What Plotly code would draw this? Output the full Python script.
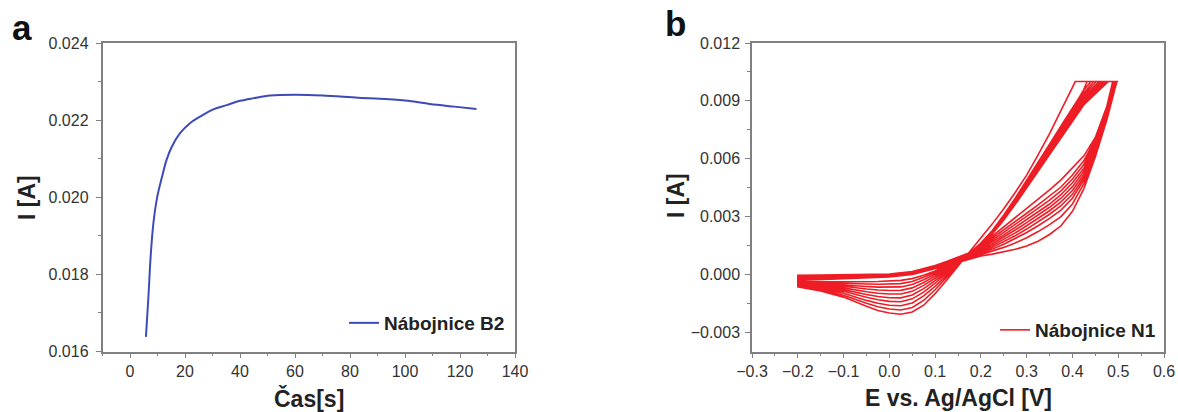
import plotly.graph_objects as go

# ---------------- Panel a: chronoamperometry ----------------
time_s = [5.8, 6.7, 7.5, 8.5, 9.9, 11.5, 13.3, 15.2, 18.2, 21.8, 25.5, 30.3, 35.2, 40,
          45, 51, 60, 70, 83, 100, 109, 118, 126]
current_a = [0.01638, 0.01742, 0.01846, 0.01932, 0.02001, 0.02049, 0.02097, 0.02131,
             0.02166, 0.02192, 0.02209, 0.02228, 0.02239, 0.0225, 0.02257, 0.02264,
             0.02266, 0.02264, 0.02258, 0.02251, 0.02242, 0.02235, 0.02229]

# ---------------- Panel b: cyclic voltammetry (values in mA) ----------------
FWD_E = [-0.2, -0.15, -0.1, -0.05, 0.0, 0.05, 0.1, 0.125, 0.15, 0.175, 0.2, 0.225, 0.25,
         0.275, 0.3, 0.325, 0.35, 0.375, 0.4, 0.425, 0.45, 0.475]
REV_E = [0.425, 0.4, 0.375, 0.35, 0.325, 0.3, 0.275, 0.25, 0.225, 0.2, 0.175, 0.15, 0.125,
         0.1, 0.075, 0.05, 0.025, 0.0, -0.025, -0.05, -0.1, -0.15, -0.2]
E_MAX = 0.5
I_LIMIT_MA = 10.0

fwd_clip_E = [0.497, 0.496, 0.495, 0.494, 0.493, 0.492, 0.491, 0.490, 0.489, 0.488]
rev_clip_E = [0.406, 0.432, 0.440, 0.446, 0.452, 0.458, 0.463, 0.468, 0.473, 0.478]

fwd_mA = [
    [-0.32, -0.28, -0.24, -0.20, -0.14, 0.00, 0.28, 0.45, 0.62, 0.80, 0.95, 1.05, 1.16, 1.30, 1.47, 1.72, 2.07, 2.52, 3.27, 4.45, 6.10, 8.00],
    [-0.29, -0.25, -0.21, -0.17, -0.11, 0.02, 0.30, 0.47, 0.65, 0.84, 1.02, 1.20, 1.40, 1.63, 1.90, 2.22, 2.58, 3.00, 3.65, 4.70, 6.25, 8.10],
    [-0.26, -0.22, -0.18, -0.15, -0.09, 0.04, 0.32, 0.49, 0.68, 0.88, 1.09, 1.31, 1.56, 1.85, 2.17, 2.52, 2.90, 3.33, 3.95, 4.90, 6.40, 8.20],
    [-0.23, -0.19, -0.16, -0.13, -0.07, 0.06, 0.34, 0.51, 0.71, 0.92, 1.15, 1.40, 1.69, 2.00, 2.35, 2.72, 3.12, 3.56, 4.15, 5.05, 6.50, 8.30],
    [-0.20, -0.17, -0.14, -0.11, -0.05, 0.07, 0.36, 0.54, 0.74, 0.96, 1.21, 1.49, 1.81, 2.15, 2.52, 2.90, 3.30, 3.76, 4.35, 5.20, 6.60, 8.35],
    [-0.17, -0.14, -0.11, -0.08, -0.03, 0.09, 0.38, 0.56, 0.77, 1.00, 1.27, 1.58, 1.93, 2.30, 2.68, 3.07, 3.48, 3.95, 4.55, 5.35, 6.70, 8.40],
    [-0.14, -0.11, -0.08, -0.06, -0.01, 0.11, 0.40, 0.59, 0.80, 1.03, 1.33, 1.67, 2.05, 2.44, 2.83, 3.23, 3.65, 4.13, 4.75, 5.50, 6.80, 8.45],
    [-0.11, -0.08, -0.06, -0.04, 0.00, 0.12, 0.42, 0.61, 0.84, 1.06, 1.39, 1.77, 2.18, 2.59, 3.00, 3.41, 3.85, 4.33, 4.95, 5.70, 6.90, 8.50],
    [-0.08, -0.06, -0.04, -0.02, 0.01, 0.14, 0.44, 0.64, 0.87, 1.09, 1.45, 1.87, 2.31, 2.74, 3.17, 3.60, 4.05, 4.53, 5.15, 5.90, 7.00, 8.60],
    [-0.05, -0.03, -0.02, -0.01, 0.02, 0.15, 0.46, 0.67, 0.90, 1.12, 1.51, 1.98, 2.48, 2.95, 3.42, 3.90, 4.38, 4.90, 5.50, 6.15, 7.10, 8.70],
]

rev_mA = [
    [None, 9.70, 8.50, 7.30, 6.20, 5.15, 4.25, 3.40, 2.62, 1.88, 1.15, 0.45, -0.30, -1.00, -1.60, -1.95, -2.07, -2.00, -1.87, -1.65, -1.18, -0.86, -0.64],
    [9.60, 8.60, 7.55, 6.50, 5.50, 4.55, 3.65, 2.85, 2.10, 1.55, 1.12, 0.48, -0.18, -0.80, -1.35, -1.72, -1.85, -1.80, -1.68, -1.50, -1.08, -0.80, -0.62],
    [9.55, 8.65, 7.70, 6.75, 5.80, 4.85, 3.95, 3.08, 2.28, 1.62, 1.10, 0.52, -0.06, -0.62, -1.12, -1.48, -1.63, -1.60, -1.50, -1.35, -0.98, -0.74, -0.60],
    [9.40, 8.50, 7.58, 6.65, 5.72, 4.78, 3.88, 3.03, 2.25, 1.60, 1.08, 0.55, 0.04, -0.46, -0.92, -1.27, -1.42, -1.40, -1.32, -1.19, -0.88, -0.68, -0.57],
    [9.30, 8.40, 7.48, 6.56, 5.64, 4.72, 3.83, 2.99, 2.22, 1.58, 1.06, 0.58, 0.12, -0.32, -0.74, -1.07, -1.22, -1.21, -1.15, -1.04, -0.79, -0.63, -0.54],
    [9.20, 8.30, 7.40, 6.48, 5.57, 4.66, 3.78, 2.95, 2.19, 1.56, 1.05, 0.61, 0.19, -0.20, -0.57, -0.88, -1.02, -1.02, -0.98, -0.90, -0.70, -0.58, -0.51],
    [9.10, 8.20, 7.31, 6.41, 5.50, 4.60, 3.73, 2.91, 2.16, 1.54, 1.04, 0.64, 0.26, -0.09, -0.42, -0.70, -0.83, -0.84, -0.81, -0.76, -0.62, -0.53, -0.48],
    [9.00, 8.12, 7.23, 6.34, 5.44, 4.55, 3.69, 2.88, 2.14, 1.52, 1.03, 0.67, 0.32, 0.01, -0.28, -0.53, -0.65, -0.67, -0.66, -0.63, -0.54, -0.48, -0.45],
    [8.90, 8.04, 7.16, 6.28, 5.39, 4.51, 3.66, 2.85, 2.12, 1.50, 1.02, 0.70, 0.38, 0.10, -0.15, -0.37, -0.48, -0.51, -0.51, -0.50, -0.46, -0.43, -0.42],
    [8.80, 7.96, 7.09, 6.22, 5.34, 4.47, 3.63, 2.82, 2.10, 1.48, 1.01, 0.73, 0.44, 0.18, -0.04, -0.22, -0.31, -0.35, -0.37, -0.38, -0.38, -0.38, -0.38],
]

# Build one continuous CV trace (cycle after cycle)
cv_x, cv_y = [], []
for k in range(len(fwd_mA)):
    for e, i in zip(FWD_E, fwd_mA[k]):
        cv_x.append(e); cv_y.append(i / 1000.0)
    cv_x += [fwd_clip_E[k], E_MAX, rev_clip_E[k]]
    cv_y += [I_LIMIT_MA / 1000.0] * 3
    for e, i in zip(REV_E, rev_mA[k]):
        if i is None:
            continue
        cv_x.append(e); cv_y.append(i / 1000.0)

W, H = 1178, 412
FONT = "Liberation Sans, Arial, Helvetica, sans-serif"
AX_COLOR = "#808080"
TICK_FONT = dict(family=FONT, size=16, color="#333333")
TITLE_FONT = dict(family=FONT, size=23, color="#222222")
LEG_FONT = dict(family=FONT, size=19, color="#222222")

fig = go.Figure()
fig.add_trace(go.Scatter(x=time_s, y=current_a, mode="lines", name="<b>Nábojnice B2</b>",
                         line=dict(color="#3D4BB8", width=2.0, shape="spline"),
                         xaxis="x", yaxis="y", legend="legend", showlegend=True))
fig.add_trace(go.Scatter(x=cv_x, y=cv_y, mode="lines", name="<b>Nábojnice N1</b>",
                         line=dict(color="#EE1C25", width=1.6),
                         xaxis="x2", yaxis="y2", legend="legend2", showlegend=True))

common = dict(showline=True, linecolor=AX_COLOR, linewidth=1.5, mirror=True,
              ticks="outside", ticklen=5, tickwidth=1.2, tickcolor=AX_COLOR,
              showgrid=False, zeroline=False, tickfont=TICK_FONT, automargin=False)

Y0, Y1 = 1 - 351.5 / H, 1 - 43 / H


def px(x):
    return x / W


def py(y):
    return 1 - y / H


def label(text, x, y, font, angle=0):
    return dict(text=text, x=px(x), y=py(y), xref="paper", yref="paper",
                xanchor="center", yanchor="middle", textangle=angle,
                showarrow=False, font=font)


fig.update_layout(
    width=W, height=H,
    margin=dict(l=0, r=0, t=0, b=0, autoexpand=False),
    paper_bgcolor="white", plot_bgcolor="white",
    showlegend=True,
    xaxis=dict(domain=[px(102.5), px(515)], anchor="y", range=[-10, 140],
               dtick=20, tick0=0,
               minor=dict(ticks="outside", ticklen=3, dtick=10, tickcolor=AX_COLOR),
               **common),
    yaxis=dict(domain=[Y0, Y1], anchor="x", range=[0.016, 0.024], dtick=0.002,
               tickformat=".3f", ticklabelstandoff=4,
               minor=dict(ticks="outside", ticklen=3, dtick=0.001, tickcolor=AX_COLOR),
               **common),
    xaxis2=dict(domain=[px(752), px(1164)], anchor="y2", range=[-0.3, 0.6],
                dtick=0.1, tick0=0, tickformat=".1f",
                minor=dict(ticks="outside", ticklen=3, dtick=0.05, tickcolor=AX_COLOR),
                **common),
    yaxis2=dict(domain=[Y0, Y1], anchor="x2", range=[-0.004, 0.012], dtick=0.003, tick0=0,
                tickformat=".3f", ticklabelstandoff=2,
                minor=dict(ticks="outside", ticklen=3, dtick=0.0015, tickcolor=AX_COLOR),
                **common),
    legend=dict(x=px(510), y=py(323), xanchor="right", yanchor="middle",
                bgcolor="rgba(0,0,0,0)", font=LEG_FONT),
    legend2=dict(x=px(1161), y=py(330), xanchor="right", yanchor="middle",
                 bgcolor="rgba(0,0,0,0)", font=LEG_FONT),
    annotations=[
        label("<b>a</b>", 22, 28, dict(family=FONT, size=35, color="#111111")),
        label("<b>b</b>", 675, 24, dict(family=FONT, size=35, color="#111111")),
        label("<b>I [A]</b>", 27, 198, TITLE_FONT, -90),
        label("<b>Čas[s]</b>", 309, 398, TITLE_FONT),
        label("<b>I [A]</b>", 676, 196, TITLE_FONT, -90),
        label("<b>E vs. Ag/AgCl [V]</b>", 958, 398, TITLE_FONT),
    ],
)

fig.write_html("out.html",
               config={"displayModeBar": False},
               post_script="document.body.style.margin='0';"
                           "document.body.style.overflow='hidden';")
